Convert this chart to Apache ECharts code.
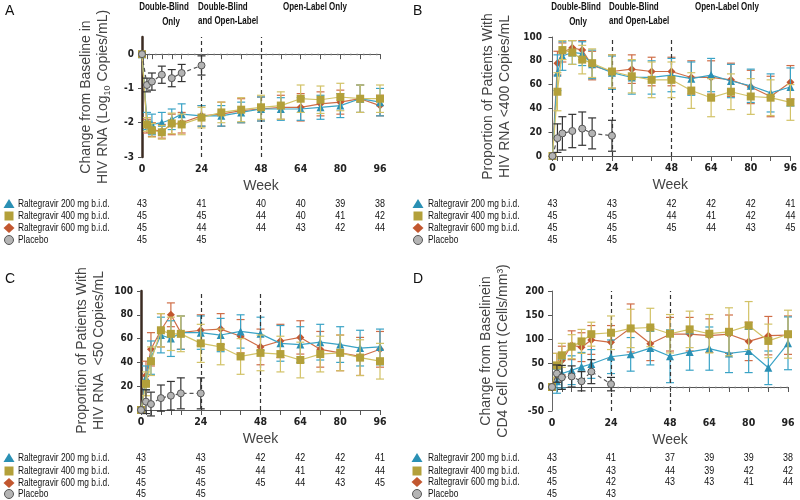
<!DOCTYPE html>
<html>
<head>
<meta charset="utf-8">
<script src="https://cdn.jsdelivr.net/npm/echarts@6/dist/echarts.min.js"></script>
<style>
  html, body { margin: 0; padding: 0; background: #fff; }
  #main { width: 800px; height: 500px; }
</style>
</head>
<body>
<div id="main"></div>
<script>
// x positions (weeks)
var weeks = [0, 2, 4, 8, 12, 16, 24, 32, 40, 48, 56, 64, 72, 80, 88, 96];
var placeboWeeks = [0, 2, 4, 8, 12, 16, 24];
var labelWeeks = [0, 24, 48, 64, 80, 96];

// A - change in log10 HIV RNA
var a200 = [0, -1.95, -2.05, -2.0, -1.9, -1.75, -1.8, -1.8, -1.7, -1.6, -1.6, -1.6, -1.55, -1.5, -1.3, -1.4];
var a200Err = [0, 0.25, 0.3, 0.3, 0.3, 0.3, 0.3, 0.3, 0.3, 0.35, 0.33, 0.33, 0.35, 0.35, 0.4, 0.4];
var a400 = [0, -2.05, -2.22, -2.28, -2.02, -2.05, -1.85, -1.7, -1.62, -1.55, -1.5, -1.3, -1.33, -1.25, -1.3, -1.3];
var a400Err = [0, 0.2, 0.2, 0.2, 0.3, 0.3, 0.3, 0.3, 0.35, 0.35, 0.4, 0.4, 0.4, 0.4, 0.4, 0.4];
var a600 = [0, -2.1, -2.2, -2.25, -2.05, -2.0, -1.8, -1.75, -1.65, -1.6, -1.55, -1.55, -1.45, -1.4, -1.3, -1.5];
var a600Err = [0, 0.2, 0.2, 0.2, 0.3, 0.3, 0.3, 0.35, 0.35, 0.35, 0.35, 0.4, 0.35, 0.35, 0.4, 0.3];
var aPlacebo = [0, -0.9, -0.8, -0.6, -0.7, -0.55, -0.33];
var aPlaceboErr = [0, 0.2, 0.25, 0.25, 0.25, 0.25, 0.28];

// B - % < 400 copies/mL
var b200 = [0, 70, 84, 87, 86, 77, 70, 66, 66, 68, 65, 68, 63, 59, 53, 58];
var b200Err = [0, 15, 12, 10, 10, 12, 14, 14, 14, 14, 14, 14, 14, 14, 16, 16];
var b400 = [0, 54, 89, 87, 81, 78, 71, 67, 64, 64, 55, 49, 54, 50, 49, 45];
var b400Err = [0, 16, 8, 10, 12, 12, 14, 14, 15, 15, 15, 16, 15, 15, 15, 15];
var b600 = [0, 78, 87, 91, 89, 76, 71, 73, 71, 71, 66, 66, 64, 58, 50, 62];
var b600Err = [0, 10, 8, 6, 8, 12, 14, 12, 12, 12, 14, 14, 14, 14, 17, 14];
var bPlacebo = [0, 15, 19, 21, 23, 19, 17];
var bPlaceboErr = [0, 12, 14, 14, 14, 13, 13];

// C - % < 50 copies/mL
var c200 = [0, 27, 44, 63, 60, 65, 65, 63, 66, 64, 56, 55, 57, 55, 52, 53];
var c200Err = [0, 10, 14, 15, 15, 14, 14, 14, 14, 14, 15, 15, 15, 15, 15, 15];
var c400 = [0, 22, 41, 67, 64, 64, 56, 53, 45, 48, 47, 42, 47, 48, 44, 41];
var c400Err = [0, 10, 12, 14, 14, 15, 16, 15, 15, 15, 15, 15, 15, 15, 15, 15];
var c600 = [0, 29, 51, 67, 80, 65, 67, 68, 62, 53, 58, 61, 51, 48, 45, 51];
var c600Err = [0, 12, 14, 14, 10, 14, 13, 13, 14, 15, 14, 14, 15, 15, 16, 15];
var cPlacebo = [0, 7, 5, 10, 12, 14, 14];
var cPlaceboErr = [0, 10, 10, 11, 12, 13, 13];

// D - change in CD4 count
var d200 = [0, 12, 28, 35, 42, 48, 63, 68, 81, 64, 73, 80, 70, 75, 40, 91];
var d200Err = [0, 25, 30, 30, 30, 30, 35, 35, 35, 55, 38, 45, 40, 45, 35, 55];
var d400 = [0, 45, 66, 84, 95, 110, 113, 122, 124, 111, 120, 111, 115, 128, 96, 110];
var d400Err = [0, 25, 25, 25, 25, 25, 35, 40, 40, 40, 38, 40, 50, 50, 35, 50];
var d600 = [0, 40, 55, 87, 83, 98, 93, 123, 90, 110, 110, 107, 110, 95, 107, 108];
var d600Err = [0, 30, 30, 30, 30, 30, 35, 50, 35, 35, 35, 35, 40, 40, 40, 40];
var dPlacebo = [0, 28, 20, 22, 12, 32, 6];
var dPlaceboErr = [0, 18, 25, 22, 20, 25, 14];

// number of patients under each panel
var nA = [[43, 41, 40, 40, 39, 38], [45, 45, 44, 40, 41, 42], [45, 44, 44, 43, 42, 44], [45, 45]];
var nB = [[43, 43, 42, 42, 42, 41], [45, 45, 44, 41, 42, 44], [45, 45, 45, 44, 43, 45], [45, 45]];
var nC = [[43, 43, 42, 42, 42, 41], [45, 45, 44, 41, 42, 44], [45, 45, 45, 44, 43, 45], [45, 45]];
var nD = [[43, 41, 37, 39, 39, 38], [45, 43, 44, 39, 42, 42], [45, 42, 43, 43, 41, 44], [45, 43]];

var rowNames = ['Raltegravir 200 mg b.i.d.', 'Raltegravir 400 mg b.i.d.', 'Raltegravir 600 mg b.i.d.', 'Placebo'];

var TEAL = '#2a90b4', TEAL_BAR = '#3aa3c6';
var GOLD = '#b3a03a', GOLD_BAR = '#d2c266';
var ORANGE = '#c2572f', ORANGE_BAR = '#cf6d47';
var GREY = '#b4b4b4';
var NARROW = '"DejaVu Sans Condensed", "Liberation Sans", sans-serif';
var SANS = '"Liberation Sans", Arial, sans-serif';

var chart = echarts.init(document.getElementById('main'));

function errRender(color) {
  return function (params, api) {
    var x = api.value(0);
    var lo = api.coord([x, api.value(1)]);
    var hi = api.coord([x, api.value(2)]);
    var w = 4;
    var st = { stroke: color, lineWidth: 1.2 };
    return {
      type: 'group',
      children: [
        { type: 'line', shape: { x1: lo[0], y1: lo[1], x2: hi[0], y2: hi[1] }, style: st },
        { type: 'line', shape: { x1: lo[0] - w, y1: lo[1], x2: lo[0] + w, y2: lo[1] }, style: st },
        { type: 'line', shape: { x1: hi[0] - w, y1: hi[1], x2: hi[0] + w, y2: hi[1] }, style: st }
      ]
    };
  };
}

function errData(xs, vals, errs) {
  var out = [];
  for (var i = 0; i < xs.length; i++) {
    if (errs[i] > 0) out.push([xs[i], vals[i] - errs[i], vals[i] + errs[i]]);
  }
  return out;
}

function pairs(xs, vals) {
  return xs.map(function (x, i) { return [x, vals[i]]; });
}

// panels: grids, axes and series
var panels = [
  { grid: { left: 142, top: 37, width: 238, height: 120 }, xmin: 0, ymin: -3, ymax: 0.5, yTicks: [-3, -2, -1, 0],
    yName: 'Change from Baseline in\nHIV RNA (Log{sub|10} Copies/mL)', nameGap: 30, thick: true,
    s200: a200, e200: a200Err, s400: a400, e400: a400Err, s600: a600, e600: a600Err, pl: aPlacebo, ple: aPlaceboErr,
    zeroFrom: 0, counts: nA },
  { grid: { left: 550, top: 37, width: 243, height: 119 }, xmin: -1, ymin: 0, ymax: 100, interval: 20,
    yName: 'Proportion of Patients With\nHIV RNA <400 Copies/mL', nameGap: 36, thick: false,
    s200: b200, e200: b200Err, s400: b400, e400: b400Err, s600: b600, e600: b600Err, pl: bPlacebo, ple: bPlaceboErr,
    zeroFrom: null, counts: nB },
  { grid: { left: 141, top: 291, width: 239, height: 119 }, xmin: 0, ymin: 0, ymax: 100, interval: 20,
    yName: 'Proportion of Patients With\nHIV RNA  <50 Copies/mL', nameGap: 33, thick: true,
    s200: c200, e200: c200Err, s400: c400, e400: c400Err, s600: c600, e600: c600Err, pl: cPlacebo, ple: cPlaceboErr,
    zeroFrom: null, counts: nC },
  { grid: { left: 552, top: 291, width: 236, height: 120 }, xmin: 0, ymin: -50, ymax: 200, interval: 50,
    yName: 'Change from Baselinein\nCD4 Cell Count (Cells/mm³)', nameGap: 40, thick: false,
    s200: d200, e200: d200Err, s400: d400, e400: d400Err, s600: d600, e600: d600Err, pl: dPlacebo, ple: dPlaceboErr,
    zeroFrom: 24, counts: nD }
];

var grids = [], xAxes = [], yAxes = [], series = [];

panels.forEach(function (p, k) {
  grids.push(p.grid);
  xAxes.push({
    type: 'value', gridIndex: k, min: p.xmin, max: 96,
    name: 'Week', nameLocation: 'middle', nameGap: 22,
    nameTextStyle: { fontFamily: SANS, fontSize: 14, color: '#444' },
    axisLine: { lineStyle: { color: '#555', width: 1 } },
    axisTick: { customValues: weeks, length: 5, lineStyle: { color: '#555' } },
    axisLabel: { customValues: labelWeeks, margin: 7, fontFamily: NARROW, fontWeight: 'bold', fontSize: 10.5, color: '#222' },
    splitLine: { show: false }
  });
  var y = {
    type: 'value', gridIndex: k, min: p.ymin, max: p.ymax,
    name: p.yName, nameLocation: 'middle', nameRotate: 90, nameGap: p.nameGap,
    nameTextStyle: {
      fontFamily: SANS, fontSize: 14, lineHeight: 17, color: '#444',
      rich: { sub: { fontFamily: SANS, fontSize: 9, color: '#444', padding: [8, 0, 0, 0] } }
    },
    axisLine: { show: true, lineStyle: { color: p.thick ? '#3b2b22' : '#666', width: p.thick ? 2.5 : 1 } },
    axisTick: { show: true, length: 4, lineStyle: { color: '#555' } },
    axisLabel: { margin: 8, fontFamily: NARROW, fontWeight: 'bold', fontSize: 10, color: '#222' },
    splitLine: { show: false }
  };
  if (p.yTicks) {
    y.axisLabel.customValues = p.yTicks;
    y.axisTick.customValues = p.yTicks;
  } else {
    y.interval = p.interval;
  }
  yAxes.push(y);

  series.push({
    type: 'line', xAxisIndex: k, yAxisIndex: k, data: [], silent: true,
    markLine: {
      symbol: 'none', silent: true, label: { show: false },
      lineStyle: { color: '#333', type: [4, 3], width: 1.2 },
      data: [{ xAxis: 24 }, { xAxis: 48 }]
    }
  });
  if (p.zeroFrom !== null) {
    series.push({
      type: 'line', xAxisIndex: k, yAxisIndex: k, data: [], silent: true,
      markLine: {
        symbol: 'none', silent: true, label: { show: false },
        lineStyle: { color: '#777', type: [1.5, 5], width: 1.3 },
        data: [[{ coord: [p.zeroFrom, 0] }, { coord: [96, 0] }]]
      }
    });
  }

  var groups = [
    { vals: p.s600, errs: p.e600, xs: weeks, color: ORANGE, bar: ORANGE_BAR, sym: 'diamond', size: 8, name: rowNames[2] },
    { vals: p.s200, errs: p.e200, xs: weeks, color: TEAL, bar: TEAL_BAR, sym: 'triangle', size: 8, name: rowNames[0] },
    { vals: p.s400, errs: p.e400, xs: weeks, color: GOLD, bar: GOLD_BAR, sym: 'rect', size: 8, name: rowNames[1] },
    { vals: p.pl, errs: p.ple, xs: placeboWeeks, color: GREY, bar: '#333', sym: 'circle', size: 7, name: rowNames[3] }
  ];
  groups.forEach(function (g, gi) {
    series.push({
      type: 'custom', name: g.name + ' err', xAxisIndex: k, yAxisIndex: k,
      renderItem: errRender(g.bar), encode: { x: 0, y: [1, 2] },
      data: errData(g.xs, g.vals, g.errs), z: 2 + gi * 2, silent: true
    });
    var isPlacebo = g.sym === 'circle';
    series.push({
      type: 'line', name: g.name, xAxisIndex: k, yAxisIndex: k,
      data: pairs(g.xs, g.vals), z: 3 + gi * 2,
      symbol: g.sym, symbolSize: g.size,
      itemStyle: { color: g.color, borderColor: isPlacebo ? '#555' : g.color, borderWidth: isPlacebo ? 1 : 0 },
      lineStyle: { color: isPlacebo ? '#555' : g.bar, width: 1.2, type: isPlacebo ? [4, 3] : 'solid' },
      animation: false
    });
  });
});

chart.setOption({
  animation: false,
  grid: grids,
  xAxis: xAxes,
  yAxis: yAxes,
  series: series
});

// headers, panel letters and the patient-count tables
var graphics = [];
function txt(x, y, s, size, weight, align, sx) {
  graphics.push({
    type: 'text', x: x, y: y, scaleX: sx || 1, silent: true,
    style: { text: s, fontFamily: SANS, fontSize: size, fontWeight: weight || 'normal',
      fill: '#111', align: align || 'left', verticalAlign: 'middle' }
  });
}

txt(5, 11, 'A', 14); txt(413, 11, 'B', 14);
txt(5, 279, 'C', 14); txt(413, 279, 'D', 14);

var headers = [
  { x: 164, x2: 171, x3: 198, x4: 283 },
  { x: 576, x2: 578, x3: 609, x4: 695 }
];
headers.forEach(function (h) {
  txt(h.x, 7, 'Double-Blind', 10.5, 'bold', 'center', 0.76);
  txt(h.x2, 22, 'Only', 10.5, 'bold', 'center', 0.76);
  txt(h.x3, 7, 'Double-Blind', 10.5, 'bold', 'left', 0.76);
  txt(h.x3, 21, 'and Open-Label', 10.5, 'bold', 'left', 0.76);
  txt(h.x4, 7, 'Open-Label Only', 10.5, 'bold', 'left', 0.76);
});

var tables = [
  { iconX: 9, textX: 18, rows: [204, 216, 228, 240] },
  { iconX: 418, textX: 428, rows: [204, 216, 228, 240] },
  { iconX: 9, textX: 18, rows: [458, 471, 483, 494] },
  { iconX: 417, textX: 428, rows: [458, 471, 482, 494] }
];
tables.forEach(function (t, k) {
  var counts = panels[k].counts;
  t.rows.forEach(function (ry, r) {
    var cx = t.iconX;
    if (r === 0) {
      graphics.push({ type: 'polygon', silent: true, shape: { points: [[cx, ry - 5], [cx + 5.5, ry + 4], [cx - 5.5, ry + 4]] }, style: { fill: TEAL } });
    } else if (r === 1) {
      graphics.push({ type: 'rect', silent: true, shape: { x: cx - 4.5, y: ry - 4.5, width: 9, height: 9 }, style: { fill: GOLD } });
    } else if (r === 2) {
      graphics.push({ type: 'polygon', silent: true, shape: { points: [[cx, ry - 5], [cx + 5.5, ry], [cx, ry + 5], [cx - 5.5, ry]] }, style: { fill: ORANGE } });
    } else {
      graphics.push({ type: 'circle', silent: true, shape: { cx: cx, cy: ry, r: 4.5 }, style: { fill: GREY, stroke: '#555', lineWidth: 1 } });
    }
    txt(t.textX, ry, rowNames[r], 10.5, 'normal', 'left', 0.8);
    counts[r].forEach(function (n, j) {
      var px = chart.convertToPixel({ xAxisIndex: k }, labelWeeks[j]);
      txt(px, ry, String(n), 10.5, 'normal', 'center', 0.85);
    });
  });
});

chart.setOption({ graphic: graphics });
window.addEventListener('resize', function () { chart.resize(); });
</script>
</body>
</html>
